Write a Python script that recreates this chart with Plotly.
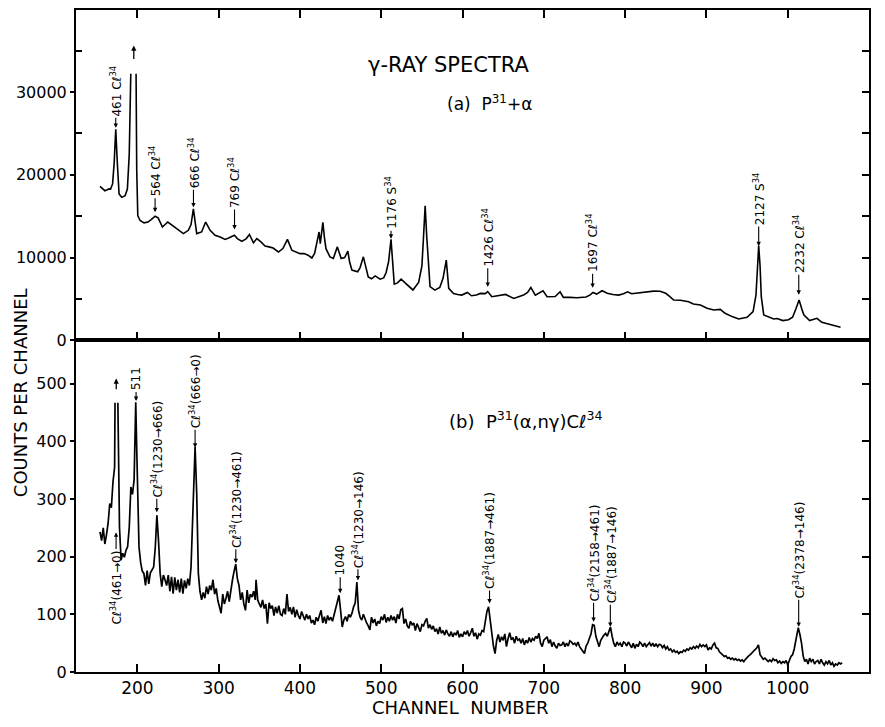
import plotly.graph_objects as go

# ---------------- data ----------------
# Panel (a): P31 + alpha gamma-ray spectrum (counts per channel)
a_channel = [154, 157, 160, 163, 165, 167, 169.5, 171.5, 173.4, 175.3,
             177.5, 180.8, 184.9, 187.7, 190, 191.9, 195, 198.4, 199.2, 200.5,
             203.3, 208.2, 213, 217, 221.8, 225.5, 230.8, 237.4, 243, 248.5,
             256.6, 262.7, 266, 268.9, 271, 273, 279, 284, 289.5, 295.6,
             301.8, 308, 313, 319.4, 323, 328.5, 334, 337.8, 342.8, 347,
             352, 357, 362, 367, 373.5, 379, 384.6, 390, 400, 405,
             410, 414.6, 418, 421, 423.5, 425, 426.5, 428.2, 430, 432,
             437, 441, 446, 450.7, 455, 458.9, 461, 463.9, 471, 474,
             478, 482, 484, 488, 492.5, 498.6, 503, 506, 509, 512,
             514, 516, 520, 524.5, 530, 535, 539, 546, 550, 552,
             554, 556, 558, 560, 566, 572, 576, 580, 583, 589,
             594, 599, 606, 611, 617, 622, 628, 631, 636, 645,
             653, 663, 675, 680, 684, 689.5, 694, 699, 704, 714,
             720, 724, 732, 740.6, 752, 757, 760.5, 765, 771.6, 778,
             785, 792, 798, 803, 808, 818.7, 827, 835, 843, 850,
             855, 859.7, 868, 878, 884, 892.6, 900.8, 909, 917, 923,
             931.6, 939.7, 950, 957.4, 961, 963, 964.3, 966, 967.5, 970.5,
             976.6, 982.8, 987, 994, 1001, 1006, 1010, 1014, 1018, 1020,
             1027, 1036, 1042, 1054.6, 1065]
a_counts = [18600, 18360, 18080, 18200, 18300, 18280, 18900, 21500, 25500, 21500,
            17700, 17280, 17480, 18280, 22500, 32200, None, 32200, 20600, 15080,
            14480, 14200, 14300, 14600, 15000, 14800, 13700, 14300, 13900, 13560,
            12900, 13300, 14000, 15900, 14200, 12900, 13100, 14300, 13300, 12700,
            12500, 12200, 12400, 12700, 12300, 11960, 12300, 12800, 11800, 12300,
            11900, 11400, 11300, 11160, 10680, 11100, 12200, 10900, 10480, 10500,
            10300, 9960, 10500, 12000, 13100, 11700, 12900, 14250, 12500, 11080,
            10080, 9900, 11300, 9900, 10000, 10800, 9500, 8500, 8300, 8800,
            10100, 8500, 7680, 7450, 7800, 7400, 7550, 8200, 9500, 12200,
            9000, 6800, 6950, 7400, 6900, 6400, 6100, 7000, 9000, 12500,
            16250, 12500, 9000, 6500, 6080, 6400, 7500, 9700, 6300, 5680,
            5550, 5480, 5800, 5400, 5500, 5680, 5650, 5900, 5280, 5400,
            5560, 5080, 5480, 5800, 6400, 5480, 5700, 6000, 5280, 5300,
            5880, 5200, 5200, 5160, 5250, 5500, 5800, 5600, 6000, 5700,
            5550, 5480, 5650, 5880, 5650, 5800, 5850, 5960, 5950, 5700,
            5300, 4880, 4850, 4680, 4400, 4280, 3880, 3680, 3760, 3280,
            2880, 2600, 2800, 3480, 5500, 9500, 11450, 9000, 5300, 3080,
            2880, 2600, 2650, 2400, 2500, 2800, 3800, 4880, 3600, 3080,
            2400, 2680, 2200, 1880, 1600]

# Panel (b): P31(alpha, n gamma)Cl34 coincidence spectrum
b_channel = [154, 156, 158, 160, 162, 164, 166, 168, 170, 172,
             172.5, 174, 176, 177, 178, 180, 182, 184, 186, 188,
             190, 192, 194, 196, 197, 198, 199, 200, 202, 204,
             206, 208, 210, 212, 214, 216, 218, 220, 222, 224,
             226, 228, 230, 232, 234, 236, 238, 240, 242, 244,
             246, 248, 250, 252, 254, 256, 258, 260, 262, 264,
             266, 268, 270, 271, 272, 273, 275, 277, 279, 281,
             283, 285, 287, 289, 291, 293, 295, 297, 299, 301,
             303, 305, 307, 309, 311, 313, 315, 317, 319, 321,
             323, 325, 327, 329, 331, 333, 335, 337, 339, 341,
             343, 345, 346, 348, 350, 352, 354, 356, 358, 360,
             362, 364, 366, 368, 370, 372, 374, 376, 378, 380,
             382, 384, 386, 388, 390, 392, 394, 396, 398, 400,
             402, 404, 406, 408, 410, 412, 414, 416, 418, 420,
             422, 424, 426, 428, 430, 432, 434, 436, 438, 440,
             442, 444, 446, 448, 450, 452, 454, 456, 458, 460,
             462, 464, 466, 468, 470, 472, 474, 476, 478, 480,
             482, 484, 486, 488, 490, 492, 494, 496, 498, 500,
             502, 504, 506, 508, 510, 512, 514, 516, 518, 520,
             522, 524, 526, 528, 530, 532, 534, 536, 538, 540,
             542, 544, 546, 548, 550, 552, 554, 556, 558, 560,
             562, 564, 566, 568, 570, 572, 574, 576, 578, 580,
             582, 584, 586, 588, 590, 592, 594, 596, 598, 600,
             602, 604, 606, 608, 610, 612, 614, 616, 618, 620,
             622, 624, 626, 628, 630, 632, 634, 636, 638, 640,
             642, 644, 646, 648, 650, 652, 654, 656, 658, 660,
             662, 664, 666, 668, 670, 672, 674, 676, 678, 680,
             682, 684, 686, 688, 690, 692, 694, 696, 698, 700,
             702, 704, 706, 708, 710, 712, 714, 716, 718, 720,
             722, 724, 726, 728, 730, 732, 734, 736, 738, 740,
             742, 744, 746, 748, 750, 752, 754, 756, 758, 760,
             762, 764, 766, 768, 770, 772, 774, 776, 778, 780,
             782, 784, 786, 788, 790, 792, 794, 796, 798, 800,
             802, 804, 806, 808, 810, 812, 814, 816, 818, 820,
             822, 824, 826, 828, 830, 832, 834, 836, 838, 840,
             842, 844, 846, 848, 850, 852, 854, 856, 858, 860,
             862, 864, 866, 868, 870, 872, 874, 876, 878, 880,
             882, 884, 886, 888, 890, 892, 894, 896, 898, 900,
             902, 904, 906, 908, 910, 912, 914, 916, 918, 920,
             922, 924, 926, 928, 930, 932, 934, 936, 938, 940,
             942, 944, 946, 948, 950, 952, 954, 956, 958, 960,
             962, 964, 966, 968, 970, 972, 974, 976, 978, 980,
             982, 984, 986, 988, 990, 992, 994, 996, 998, 1000,
             1002, 1004, 1006, 1008, 1010, 1012, 1013, 1015, 1017, 1019,
             1021, 1023, 1025, 1027, 1029, 1031, 1033, 1035, 1037, 1039,
             1041, 1043, 1045, 1047, 1049, 1051, 1053, 1055, 1057, 1059,
             1061, 1063, 1065, 1067]
b_counts = [243, 228, 250, 222, 238, 258, 292, 285, 330, 355,
            467, None, 467, 300, 251, 194, 206, 199, 211, 217,
            251, 321, 308, 334, 400, 468, 400, 332, 217, 190,
            175, 171, 150, 176, 153, 172, 176, 182, 215, 272,
            228, 171, 148, 168, 160, 150, 168, 140, 165, 136,
            164, 142, 160, 138, 162, 136, 159, 145, 162, 150,
            182, 260, 360, 390, 350, 309, 171, 140, 125, 138,
            128, 148, 135, 150, 142, 160, 135, 145, 124, 110,
            102, 135, 118, 128, 140, 122, 145, 160, 175, 187,
            162, 150, 125, 138, 118, 107, 142, 120, 135, 130,
            140, 125, 160, 125, 118, 112, 125, 110, 118, 84,
            120, 110, 115, 98, 113, 102, 115, 100, 98, 110,
            100, 135, 105, 112, 100, 113, 95, 108, 98, 92,
            105, 96, 90, 100, 92, 98, 85, 90, 82, 95,
            88, 98, 107, 85, 96, 84, 98, 90, 95, 88,
            100, 112, 120, 133, 107, 78, 90, 96, 88, 100,
            95, 102, 113, 120, 156, 107, 95, 90, 100, 92,
            85, 80, 73, 95, 85, 92, 80, 88, 84, 96,
            90, 100, 86, 95, 88, 98, 90, 96, 85, 100,
            92, 108, 110, 84, 92, 80, 76, 88, 82, 85,
            72, 84, 78, 70, 82, 80, 88, 93, 76, 82,
            74, 80, 70, 75, 66, 78, 67, 72, 64, 73,
            66, 62, 70, 61, 68, 64, 72, 60, 66, 61,
            70, 65, 72, 62, 68, 76, 62, 68, 57, 66,
            64, 72, 70, 85, 105, 113, 90, 73, 45, 32,
            55, 65, 52, 61, 55, 66, 44, 58, 68, 56,
            60, 50, 62, 55, 57, 50, 58, 47, 55, 50,
            60, 52, 58, 55, 62, 58, 67, 50, 44, 55,
            58, 61, 50, 56, 44, 52, 45, 41, 50, 46,
            47, 52, 44, 50, 45, 54, 52, 48, 50, 46,
            52, 44, 40, 36, 32, 45, 50, 58, 66, 82,
            81, 62, 52, 44, 55, 61, 64, 67, 62, 70,
            78, 62, 50, 44, 52, 47, 50, 44, 52, 50,
            45, 52, 47, 42, 50, 41, 48, 44, 52, 49,
            44, 50, 44, 48, 51, 45, 50, 44, 49, 44,
            48, 47, 42, 46, 40, 44, 38, 40, 35, 38,
            34, 36, 32, 35, 34, 38, 36, 40, 38, 42,
            40, 44, 41, 45, 42, 48, 44, 47, 44, 47,
            38, 42, 40, 47, 50, 42, 41, 35, 32, 30,
            27, 28, 24, 25, 22, 24, 21, 23, 20, 22,
            19, 21, 18, 22, 26, 28, 30, 33, 36, 38,
            42, 47, 30, 26, 22, 24, 20, 18, 21, 18,
            23, 20, 21, 16, 19, 15, 18, 16, 20, 12,
            20, 27, 30, 40, 55, 70, 77, 65, 50, 28,
            18, 22, 14, 24, 18, 22, 14, 18, 20, 14,
            22, 16, 12, 18, 14, 20, 12, 16, 10, 14,
            12, 16, 14, 16]

# Peak labels, panel (a)
a_label_text = ["461 Cℓ<sup>34</sup>", "564 Cℓ<sup>34</sup>", "666 Cℓ<sup>34</sup>",
                "769 Cℓ<sup>34</sup>", "1176 S<sup>34</sup>", "1426 Cℓ<sup>34</sup>",
                "1697 Cℓ<sup>34</sup>", "2127 S<sup>34</sup>", "2232 Cℓ<sup>34</sup>"]
a_label_channel = [173.4, 221.8, 269, 319.5, 512, 631, 760, 964.3, 1013.6]
a_label_counts = [25680, 15480, 16080, 13400, 12280, 6480, 6360, 11400, 5520]

# Peak labels, panel (b)
b_label_text = ["Cℓ<sup>34</sup>(461→0)", "511", "Cℓ<sup>34</sup>(1230→666)",
                "Cℓ<sup>34</sup>(666→0)", "Cℓ<sup>34</sup>(1230→461)", "1040",
                "Cℓ<sup>34</sup>(1230→146)", "Cℓ<sup>34</sup>(1887→461)",
                "Cℓ<sup>34</sup>(2158→461)", "Cℓ<sup>34</sup>(1887→146)",
                "Cℓ<sup>34</sup>(2378→146)"]
b_label_channel = [173.8, 198.4, 223.9, 271, 321.1, 449.5, 471.3, 633.2, 761.2, 781.8, 1013.5]
b_label_counts = [242, 470, 277, 389, 188.6, 136.7, 159, 118.9, 87, 78.4, 78.4]

# Off-scale peak markers (channel, arrow base count, arrow tip count)
a_offscale = (195.6, 33800, 35600)
b_offscale = (174, 488, 509)

x_ticks = [200, 300, 400, 500, 600, 700, 800, 900, 1000, 1100]
a_ticks = [0, 10000, 20000, 30000]
a_minor = [5000, 15000, 25000, 35000]
b_ticks = [0, 100, 200, 300, 400, 500]

# ---------------- style ----------------
FONT = "DejaVu Sans"
a_label_offset = [-37, -41, -44.5, -47, -36, -49, -44.5, -47.5, -50.5]
b_label_offset = [55, -22, -63.5, -56.5, -64, -33, -61, -63, -69, -72, -77]

fig = go.Figure()
fig.add_trace(go.Scatter(x=a_channel, y=a_counts, mode="lines", xaxis="x2", yaxis="y2",
                         line=dict(color="black", width=1.6), connectgaps=False,
                         hoverinfo="skip", showlegend=False))
fig.add_trace(go.Scatter(x=b_channel, y=b_counts, mode="lines", xaxis="x", yaxis="y",
                         line=dict(color="black", width=1.7), connectgaps=False,
                         hoverinfo="skip", showlegend=False))
# empty traces so the right-hand tick axes are drawn
fig.add_trace(go.Scatter(x=[], y=[], xaxis="x", yaxis="y3", showlegend=False))
fig.add_trace(go.Scatter(x=[], y=[], xaxis="x2", yaxis="y4", showlegend=False))

split = 0.5008
axis_common = dict(showgrid=False, zeroline=False, showline=True, linecolor="black",
                   linewidth=2, tickcolor="black", tickwidth=1.5)

# the page body adds an 8 px margin, so the figure is 8 px smaller and shifted
fig.update_layout(
    width=877, height=719,
    margin=dict(l=68, r=16, t=0, b=55),
    paper_bgcolor="white", plot_bgcolor="white",
    font=dict(family=FONT, color="black"),
    showlegend=False,
    xaxis=dict(domain=[0, 1], anchor="y", range=[124.5, 1100],
               tickmode="array", tickvals=x_ticks, ticktext=[str(v) for v in x_ticks],
               ticks="inside", ticklen=8, mirror=True,
               tickfont=dict(size=17, family=FONT), **axis_common),
    xaxis2=dict(domain=[0, 1], anchor="y2", matches="x", range=[124.5, 1100],
                tickmode="array", tickvals=x_ticks[:-1], showticklabels=False,
                ticks="inside", ticklen=8, mirror="ticks", **axis_common),
    yaxis=dict(domain=[0, split], anchor="x", range=[0, 575],
               tickmode="array", tickvals=b_ticks, ticktext=[str(v) for v in b_ticks],
               ticks="outside", ticklen=4, mirror=True,
               tickfont=dict(size=16, family=FONT), **axis_common),
    yaxis2=dict(domain=[split, 1], anchor="x2", range=[0, 39900],
                tickmode="array", tickvals=a_ticks, ticktext=[str(v) for v in a_ticks],
                ticks="outside", ticklen=4, mirror=True,
                minor=dict(tickmode="array", tickvals=a_minor, ticks="inside",
                           ticklen=6, tickwidth=1.5, tickcolor="black", showgrid=False),
                tickfont=dict(size=16, family=FONT), **axis_common),
    yaxis3=dict(overlaying="y", side="right", anchor="x", range=[0, 575],
                tickmode="array", tickvals=b_ticks[1:], showticklabels=False,
                ticks="inside", ticklen=7, tickcolor="black", tickwidth=1.5,
                showgrid=False, zeroline=False, showline=False),
    yaxis4=dict(overlaying="y2", side="right", anchor="x2", range=[0, 39900],
                tickmode="array", tickvals=a_minor + a_ticks[1:], showticklabels=False,
                ticks="inside", ticklen=7, tickcolor="black", tickwidth=1.5,
                showgrid=False, zeroline=False, showline=False),
)

annotations = []
label_font = dict(size=12, family=FONT, color="black")
for txt, ch, c, off in zip(a_label_text, a_label_channel, a_label_counts, a_label_offset):
    annotations.append(dict(x=ch, y=c, xref="x2", yref="y2", text=txt, textangle=-90,
                            showarrow=True, ax=0, ay=off, arrowhead=2, arrowsize=0.8,
                            arrowwidth=1.1, arrowcolor="black", font=label_font))
for txt, ch, c, off in zip(b_label_text, b_label_channel, b_label_counts, b_label_offset):
    annotations.append(dict(x=ch, y=c, xref="x", yref="y", text=txt, textangle=-90,
                            showarrow=True, ax=0, ay=off, arrowhead=2, arrowsize=0.8,
                            arrowwidth=1.1, arrowcolor="black", font=label_font))
# off-scale arrows
annotations.append(dict(x=a_offscale[0], y=a_offscale[2], ax=a_offscale[0], ay=a_offscale[1],
                        xref="x2", yref="y2", axref="x2", ayref="y2", text="",
                        showarrow=True, arrowhead=2, arrowsize=0.8, arrowwidth=1.3,
                        arrowcolor="black"))
annotations.append(dict(x=b_offscale[0], y=b_offscale[2], ax=b_offscale[0], ay=b_offscale[1],
                        xref="x", yref="y", axref="x", ayref="y", text="",
                        showarrow=True, arrowhead=2, arrowsize=0.8, arrowwidth=1.3,
                        arrowcolor="black"))
# titles (paper coordinates)
annotations += [
    dict(x=0.47, y=0.917, xref="paper", yref="paper", text="γ-RAY SPECTRA",
         showarrow=False, font=dict(size=21, family=FONT), xanchor="center", yanchor="middle"),
    dict(x=0.4656, y=0.860, xref="paper", yref="paper", text="(a)  P<sup>31</sup>+α",
         showarrow=False, font=dict(size=17, family=FONT), xanchor="left", yanchor="middle"),
    dict(x=0.468, y=0.381, xref="paper", yref="paper",
         text="(b)  P<sup>31</sup>(α,nγ)Cℓ<sup>34</sup>",
         showarrow=False, font=dict(size=18, family=FONT), xanchor="left", yanchor="middle"),
    dict(x=-0.0707, y=0.4226, xref="paper", yref="paper", text="COUNTS PER CHANNEL",
         textangle=-90, showarrow=False, font=dict(size=18, family=FONT),
         xanchor="center", yanchor="middle"),
    dict(x=0.485, y=-0.054, xref="paper", yref="paper", text="CHANNEL  NUMBER",
         showarrow=False, font=dict(size=18, family=FONT), xanchor="center", yanchor="middle"),
]
fig.update_layout(annotations=annotations)

fig.write_html("out.html")
